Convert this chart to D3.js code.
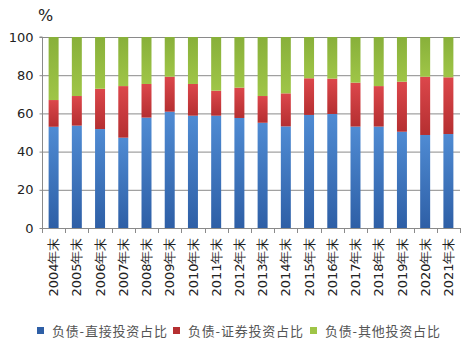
<!DOCTYPE html>
<html><head><meta charset="utf-8">
<script src="https://cdn.jsdelivr.net/npm/d3@7"></script>
<style>body{margin:0;background:#fff}svg{display:block}</style>
</head><body>
<script>
const categories = ["2004年末","2005年末","2006年末","2007年末","2008年末","2009年末","2010年末","2011年末","2012年末","2013年末","2014年末","2015年末","2016年末","2017年末","2018年末","2019年末","2020年末","2021年末"];
const direct = [53.0,53.6,51.8,47.3,57.8,60.9,58.8,58.8,57.6,55.1,53.2,59.2,59.7,53.1,53.1,50.4,48.7,49.2];
const securities = [14.0,15.5,21.1,27.0,17.6,18.3,16.6,13.1,15.9,14.0,17.3,19.2,18.5,23.0,21.2,26.2,30.5,29.7];
const other = [33.0,30.9,27.1,25.7,24.6,20.8,24.6,28.1,26.5,30.9,29.5,21.6,21.8,23.9,25.7,23.4,20.8,21.1];
const seriesNames = ["负债-直接投资占比","负债-证券投资占比","负债-其他投资占比"];
const yTicks = [0,20,40,60,80,100];

const W=465,H=350;
const m={l:42,r:5,t:37,b:122};
const svg=d3.select("body").append("svg").attr("width",W).attr("height",H);
const defs=svg.append("defs");
const grads=[["#4f8bd3","#2e5fa6"],["#dc474b","#b52f31"],["#88b03a","#9fc547"]];
grads.forEach((g,i)=>{
  const lg=defs.append("linearGradient").attr("id","g"+i).attr("x1",0).attr("y1",0).attr("x2",0).attr("y2",1);
  lg.append("stop").attr("offset","0%").attr("stop-color",g[0]);
  lg.append("stop").attr("offset","100%").attr("stop-color",g[1]);
});
const x=d3.scaleBand().domain(categories).range([m.l,460]).paddingInner(0.57).paddingOuter(0.285);
const y=d3.scaleLinear().domain([0,100]).range([228,m.t]);

// grid
svg.append("g").selectAll("line").data(yTicks.slice(1)).join("line")
  .attr("x1",m.l).attr("x2",460).attr("y1",d=>y(d)+0.5).attr("y2",d=>y(d)+0.5)
  .attr("stroke","#8a8a8a").attr("stroke-width",1);

const data=categories.map((c,i)=>({cat:c,a:direct[i],b:securities[i],c:other[i]}));
const stack=d3.stack().keys(["a","b","c"])(data);
stack.forEach((s,si)=>{
  svg.append("g").attr("fill",`url(#g${si})`).selectAll("rect").data(s).join("rect")
    .attr("x",d=>x(d.data.cat)).attr("width",x.bandwidth())
    .attr("y",d=>y(d[1])).attr("height",d=>y(d[0])-y(d[1]));
});

// y axis
const ya=svg.append("g").attr("transform",`translate(${m.l+0.5},0)`)
  .call(d3.axisLeft(y).tickValues(yTicks).tickSize(3).tickPadding(6));
ya.select(".domain").attr("stroke","#8a8a8a").attr("d",`M-3,${y(100)}H0V${y(0)}`);
ya.selectAll(".tick line").attr("stroke","#8a8a8a");
ya.selectAll("text").attr("font-family","DejaVu Sans").attr("font-size",13).attr("fill","#222");

// x axis
const xa=svg.append("g").attr("transform",`translate(0,${y(0)+0.5})`)
  .call(d3.axisBottom(x).tickSize(0).tickPadding(0));
xa.select(".domain").attr("stroke","#8a8a8a").attr("d",`M${m.l},0H460`);
xa.selectAll(".tick text").attr("font-family","DejaVu Sans").attr("font-size",13).attr("fill","#222")
  .attr("transform","rotate(-90)").attr("text-anchor","end").attr("dx","-9").attr("dy","0.35em").attr("y",0).attr("x",0);
// ticks between categories
const bounds=categories.map((c,i)=>m.l+i*x.step()).concat([460]);
svg.append("g").selectAll("line").data(bounds).join("line")
  .attr("x1",d=>Math.round(d)+0.5).attr("x2",d=>Math.round(d)+0.5)
  .attr("y1",y(0)).attr("y2",y(0)+5).attr("stroke","#8a8a8a");

svg.append("text").attr("x",38).attr("y",21).text("%")
  .attr("font-family","DejaVu Sans").attr("font-size",16).attr("fill","#222");

// legend
const lx=[37,173,310];
const lg=svg.append("g");
seriesNames.forEach((n,i)=>{
  lg.append("rect").attr("x",lx[i]).attr("y",327).attr("width",7).attr("height",7).attr("fill",grads[i][1]);
  lg.append("text").attr("x",lx[i]+15).attr("y",335.5).text(n)
    .attr("font-family","Noto Sans CJK SC").attr("font-size",13).attr("letter-spacing","0.8px").attr("fill","#555");
});
</script>
</body></html>
